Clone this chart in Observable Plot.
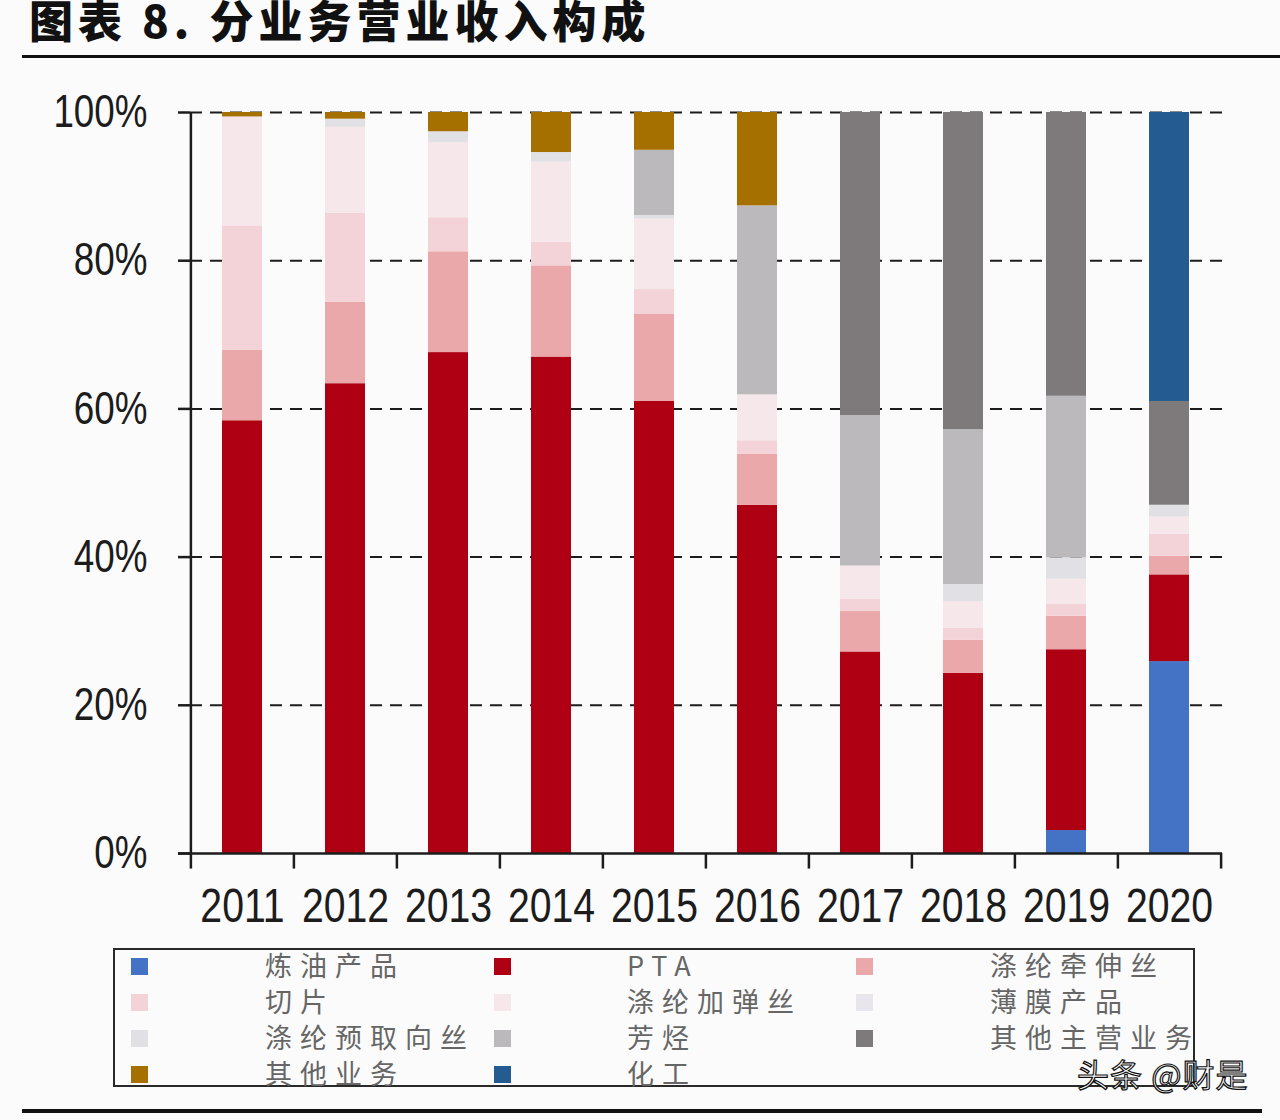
<!DOCTYPE html>
<html>
<head>
<meta charset="utf-8">
<script src="https://cdn.jsdelivr.net/npm/d3@7"></script>
<script src="https://cdn.jsdelivr.net/npm/@observablehq/plot@0.6"></script>
<style>
  html, body { margin: 0; padding: 0; background: #fbfbfc; }
  body { width: 1280px; height: 1120px; position: relative; overflow: hidden; font-family: "Noto Sans CJK SC", sans-serif; }
  #title { position: absolute; left: 29px; top: -3px; font-size: 44px; line-height: 44px; font-weight: 900; letter-spacing: 5px; color: #111; white-space: nowrap; }
  #ruleTop { position: absolute; left: 22px; top: 55px; width: 1258px; height: 3px; background: #111; }
  #ruleBottom { position: absolute; left: 22px; top: 1109px; width: 1240px; height: 4px; background: #111; }
  #chart { position: absolute; left: 0; top: 60px; }
  #legend { position: absolute; left: 113px; top: 948px; width: 1082px; height: 139px; border: 2px solid #2a2a2a; box-sizing: border-box; }
  .sw { position: absolute; width: 17px; height: 17px; }
  .lb { position: absolute; font-size: 27px; line-height: 28px; letter-spacing: 8px; color: #666; white-space: nowrap; }
  #mark { position: absolute; left: 1077px; top: 1056px; font-size: 32px; line-height: 34px; letter-spacing: 1px; color: #fff; -webkit-text-stroke: 1.2px #111; white-space: nowrap; }
</style>
</head>
<body>
<div id="title">图表 8. 分业务营业收入构成</div>
<div id="ruleTop"></div>
<div id="chart"></div>
<div id="legend"></div>
<div id="mark">头条 @财是</div>
<div id="ruleBottom"></div>
<script>
// ---- data (percent of revenue) ----
const years = ["2011","2012","2013","2014","2015","2016","2017","2018","2019","2020"];
const seriesNames = ["炼油产品","PTA","涤纶牵伸丝","切片","涤纶加弹丝","薄膜产品","涤纶预取向丝","芳烃","其他主营业务","其他业务","化工"];
const seriesColors = ["#4472c4","#ae0012","#eaa8aa","#f3d3d7","#f5e7ea","#e9e5ed","#e1e0e4","#bbb9bb","#7e7a7b","#a67000","#245c92"];
const refinery     = [0, 0, 0, 0, 0, 0, 0, 0, 3.1, 25.9];
const pta          = [58.4, 63.4, 67.6, 67.0, 61.0, 47.0, 27.2, 24.3, 24.4, 11.7];
const drawnYarn    = [9.5, 11.0, 13.6, 12.3, 11.8, 6.9, 5.5, 4.5, 4.5, 2.5];
const chips        = [16.8, 12.0, 4.6, 3.2, 3.3, 1.8, 1.6, 1.6, 1.6, 3.0];
const texturedYarn = [14.7, 11.6, 10.1, 10.8, 9.5, 6.2, 4.5, 3.6, 3.4, 2.3];
const film         = [0, 0, 0, 0, 0, 0, 0, 0, 0, 0];
const poy          = [0, 1.1, 1.5, 1.3, 0.5, 0, 0, 2.3, 2.9, 1.6];
const aromatics    = [0, 0, 0, 0, 8.8, 25.5, 20.3, 20.9, 21.8, 0];
const otherMain    = [0, 0, 0, 0, 0, 0, 40.9, 42.8, 38.3, 14.0];
const otherBiz     = [0.6, 0.9, 2.6, 5.4, 5.1, 12.6, 0, 0, 0, 0];
const chemical     = [0, 0, 0, 0, 0, 0, 0, 0, 0, 39.0];
const yTicks = [0, 20, 40, 60, 80, 100];
const gridTicks = [20, 40, 60, 80, 100];

const seriesValues = [refinery, pta, drawnYarn, chips, texturedYarn, film, poy, aromatics, otherMain, otherBiz, chemical];
const tidy = seriesNames.flatMap((s, i) => seriesValues[i].map((v, j) => ({year: years[j], series: s, value: v})));

const W = 1280, H = 880;
const mL = 190, mR = 58, mT = 52, mB = 87;
const step = (W - mL - mR) / years.length;
const sans = "'Liberation Sans', Arial, sans-serif";
const ink = "#1c1c1c";

const plot = Plot.plot({
  width: W, height: H,
  marginLeft: mL, marginRight: mR, marginTop: mT, marginBottom: mB,
  style: {background: "transparent", fontFamily: sans, color: ink, overflow: "visible"},
  x: {domain: years, paddingInner: 0.61, paddingOuter: 0.305, label: null},
  y: {domain: [0, 100], label: null},
  color: {domain: seriesNames, range: seriesColors},
  marks: [
    Plot.ruleY(gridTicks, {stroke: ink, strokeWidth: 2, strokeDasharray: "12,8", insetRight: -3}),
    Plot.barY(tidy, {x: "year", y: "value", fill: "series", order: seriesNames}),
    Plot.ruleY([0], {stroke: ink, strokeWidth: 2.5, insetLeft: -12}),
    Plot.ruleX([years[0]], {x: d => d, dx: -step / 2, y1: 0, y2: 100, stroke: ink, strokeWidth: 2.5}),
    Plot.ruleX(years, {x: d => d, dx: -step / 2, y1: 0, y2: -2.1, stroke: ink, strokeWidth: 2.5}),
    Plot.ruleX([years[years.length - 1]], {x: d => d, dx: step / 2, y1: 0, y2: -2.1, stroke: ink, strokeWidth: 2.5}),
    Plot.axisY({ticks: yTicks, tickFormat: d => d + "%", tickSize: 12, tickPadding: 31, fontSize: 46, stroke: ink, strokeWidth: 2.5, label: null}),
    Plot.axisX({tickSize: 0, tickPadding: 34, fontSize: 49, label: null})
  ]
});
document.getElementById("chart").appendChild(plot);

// condense the axis tick labels horizontally (narrow sans look)
plot.querySelectorAll("text").forEach(t => {
  const L = t.getComputedTextLength();
  if (L > 0) {
    t.setAttribute("textLength", (L * 0.8).toFixed(1));
    t.setAttribute("lengthAdjust", "spacingAndGlyphs");
  }
});

// ---- legend (HTML, laid out in 3 columns) ----
const legend = document.getElementById("legend");
const swatchX = [16, 379, 741];
const labelX = [150, 512, 875];
const rowY = [17, 53, 89, 125];
seriesNames.forEach((s, i) => {
  const c = i % 3, r = Math.floor(i / 3);
  const sw = document.createElement("div");
  sw.className = "sw";
  sw.style.left = swatchX[c] + "px";
  sw.style.top = (rowY[r] - 9) + "px";
  sw.style.background = seriesColors[i];
  legend.appendChild(sw);
  const lb = document.createElement("div");
  lb.className = "lb";
  lb.style.left = labelX[c] + "px";
  lb.style.top = (rowY[r] - 16) + "px";
  lb.textContent = s;
  legend.appendChild(lb);
});
</script>
</body>
</html>
